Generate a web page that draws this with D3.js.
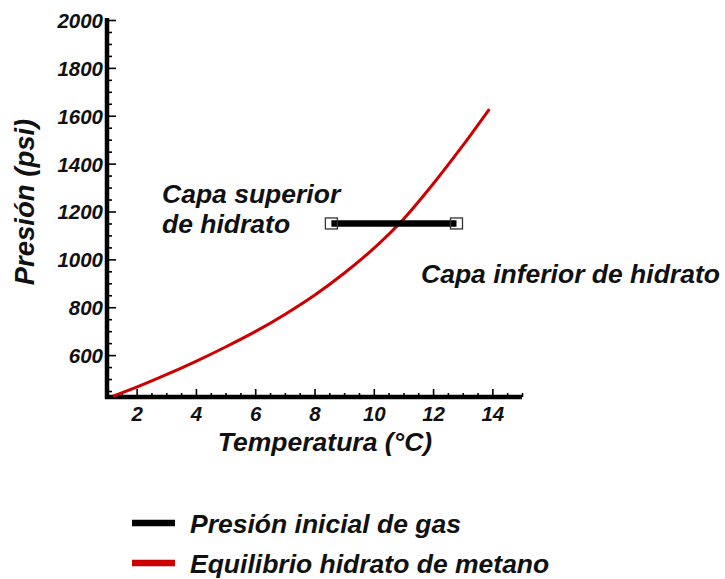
<!DOCTYPE html>
<html>
<head>
<meta charset="utf-8">
<script src="https://cdn.jsdelivr.net/npm/d3@7"></script>
<style>
  html, body { margin: 0; padding: 0; background: #ffffff; }
  svg { display: block; }
  text { font-family: "Liberation Sans", Arial, sans-serif; font-weight: bold; font-style: italic; fill: #111; }
</style>
</head>
<body>
<svg id="chart" width="725" height="579"></svg>
<script>
// ---- data ----
const xDomain = [1, 15];
const yDomain = [425, 2000];
const xTickValues = [2, 4, 6, 8, 10, 12, 14];
const yTickValues = [600, 800, 1000, 1200, 1400, 1600, 1800, 2000];

// Equilibrio hidrato de metano (temperature °C, pressure psi)
const curveT = [1.2, 2, 3, 4, 5, 6, 7, 8, 9, 10, 11, 12, 13, 13.9];
const curveP = [428, 466, 518, 574, 634, 698, 770, 850, 942, 1046, 1168, 1315, 1475, 1628];

// Presión inicial de gas
const gasT = [8.57, 12.79];
const gasP = [1150, 1150];

const xTitle = "Temperatura (°C)";
const yTitle = "Presión (psi)";
const upperLabel = ["Capa superior", "de hidrato"];
const lowerLabel = "Capa inferior de hidrato";
const legendItems = ["Presión inicial de gas", "Equilibrio hidrato de metano"];
const legendColors = ["#000000", "#cc0000"];

// ---- drawing ----
const svg = d3.select("#chart");
const x = d3.scaleLinear().domain(xDomain).range([107, 522]);
const y = d3.scaleLinear().domain(yDomain).range([397, 20]);

const tickFont = "20.5px";

// minor ticks
const xMinor = d3.range(1.5, 15.01, 0.5).filter(v => !xTickValues.includes(v));
const yMinor = d3.range(450, 2000, 50).filter(v => !yTickValues.includes(v));

const gxMinor = svg.append("g").attr("transform", `translate(0,${y(yDomain[0])})`)
  .call(d3.axisBottom(x).tickValues(xMinor).tickSize(-4).tickFormat(""));
const gyMinor = svg.append("g").attr("transform", `translate(${x(xDomain[0])},0)`)
  .call(d3.axisLeft(y).tickValues(yMinor).tickSize(-5).tickFormat(""));

const gx = svg.append("g").attr("transform", `translate(0,${y(yDomain[0])})`)
  .call(d3.axisBottom(x).tickValues(xTickValues).tickSize(-8).tickPadding(9).tickFormat(d3.format("d")));
const gy = svg.append("g").attr("transform", `translate(${x(xDomain[0])},0)`)
  .call(d3.axisLeft(y).tickValues(yTickValues).tickSize(-9).tickPadding(4).tickFormat(d3.format("d")));

[gxMinor, gyMinor, gx, gy].forEach(g => {
  g.select(".domain").remove();
  g.selectAll(".tick line").attr("stroke", "#000").attr("stroke-width", 1.6);
});
[gx, gy].forEach(g => {
  g.selectAll(".tick text")
    .style("font-family", '"Liberation Sans", Arial, sans-serif')
    .style("font-weight", "bold").style("font-style", "italic")
    .style("font-size", tickFont).attr("fill", "#111");
});
gy.selectAll(".tick text").attr("dy", "0.36em");

// axis lines (thick)
svg.append("line")
  .attr("x1", x(xDomain[0]) - 2).attr("x2", x(xDomain[1]))
  .attr("y1", y(yDomain[0])).attr("y2", y(yDomain[0]))
  .attr("stroke", "#000").attr("stroke-width", 4.5);
svg.append("line")
  .attr("x1", x(xDomain[0])).attr("x2", x(xDomain[0]))
  .attr("y1", y(yDomain[1]) - 2).attr("y2", y(yDomain[0]) + 2)
  .attr("stroke", "#000").attr("stroke-width", 4.5);

// equilibrium curve
const curveData = curveT.map((t, i) => [t, curveP[i]]);
svg.append("path")
  .datum(curveData)
  .attr("fill", "none")
  .attr("stroke", legendColors[1])
  .attr("stroke-width", 3)
  .attr("d", d3.line().x(d => x(d[0])).y(d => y(d[1])).curve(d3.curveMonotoneX));

// gas pressure line
const gasData = gasT.map((t, i) => [t, gasP[i]]);
svg.append("path")
  .datum(gasData)
  .attr("fill", "none")
  .attr("stroke", legendColors[0])
  .attr("stroke-width", 6.5)
  .attr("d", d3.line().x(d => x(d[0])).y(d => y(d[1])));
svg.selectAll("rect.endpt").data(gasData).enter().append("rect")
  .attr("class", "endpt")
  .attr("x", d => x(d[0]) - 6).attr("y", d => y(d[1]) - 5.5)
  .attr("width", 12).attr("height", 11)
  .attr("fill", "none").attr("stroke", "#333").attr("stroke-width", 1.3);

// axis titles
svg.append("text").attr("x", 325).attr("y", 451).attr("text-anchor", "middle")
  .style("font-size", "26.5px").text(xTitle);
svg.append("text").attr("transform", "translate(34,202) rotate(-90)").attr("text-anchor", "middle")
  .style("font-size", "27.5px").text(yTitle);

// annotations
svg.append("text").attr("x", 162).attr("y", 203).style("font-size", "26.5px").text(upperLabel[0]);
svg.append("text").attr("x", 162).attr("y", 233).style("font-size", "26.5px").text(upperLabel[1]);
svg.append("text").attr("x", 421).attr("y", 283).style("font-size", "26.5px").text(lowerLabel);

// legend
const legendY = [523, 563];
legendItems.forEach((label, i) => {
  svg.append("line")
    .attr("x1", 132).attr("x2", 175)
    .attr("y1", legendY[i]).attr("y2", legendY[i])
    .attr("stroke", legendColors[i]).attr("stroke-width", 6.5);
  svg.append("text").attr("x", 190).attr("y", legendY[i] + 10)
    .style("font-size", "26.5px").text(label);
});
</script>
</body>
</html>
